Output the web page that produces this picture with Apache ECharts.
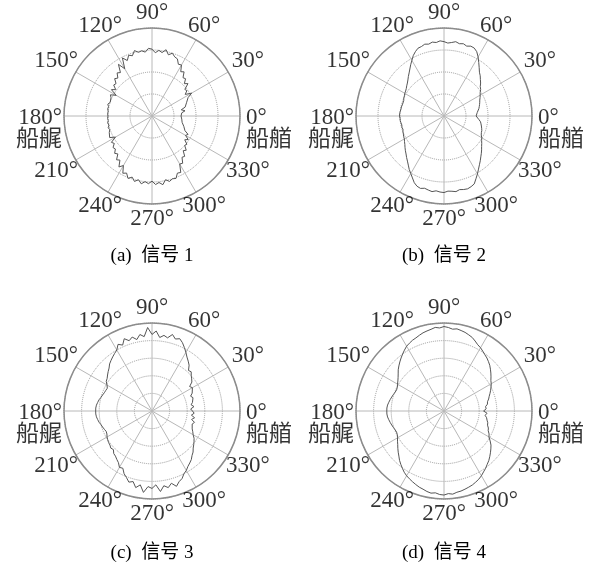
<!DOCTYPE html>
<html>
<head>
<meta charset="utf-8">
<script src="https://cdn.jsdelivr.net/npm/echarts@6/dist/echarts.min.js"></script>
<style>
  html, body { margin: 0; padding: 0; background: #ffffff; }
  #chart { width: 592px; height: 562px; }
</style>
</head>
<body>
<div id="chart"></div>
<script>
// Bearing of each sample (degrees, 0 = bow, counter-clockwise)
const sampleAngles = [
  0, 3, 6, 9, 12, 15, 18, 21, 24, 27, 30, 33, 36, 39, 42, 45, 48, 51, 54, 57,
  60, 63, 66, 69, 72, 75, 78, 81, 84, 87, 90, 93, 96, 99, 102, 105, 108, 111, 114, 117,
  120, 123, 126, 129, 132, 135, 138, 141, 144, 147, 150, 153, 156, 159, 162, 165, 168, 171, 174, 177,
  180, 183, 186, 189, 192, 195, 198, 201, 204, 207, 210, 213, 216, 219, 222, 225, 228, 231, 234, 237,
  240, 243, 246, 249, 252, 255, 258, 261, 264, 267, 270, 273, 276, 279, 282, 285, 288, 291, 294, 297,
  300, 303, 306, 309, 312, 315, 318, 321, 324, 327, 330, 333, 336, 339, 342, 345, 348, 351, 354, 357
];

// Relative level of each signal at the bearings above (outer circle = 100)
const signal1 = [
  33, 35, 34, 38, 34, 39, 38, 42, 41, 46, 52, 45, 49, 48, 55, 52, 57, 56, 62, 60,
  67, 66, 71, 72, 75, 72, 77, 73, 75, 72, 76, 77, 73, 75, 74, 77, 72, 74, 69, 74,
  62, 70, 61, 63, 58, 60, 55, 56, 51, 55, 47, 53, 51, 52, 50, 52, 50.5, 51, 50, 50.5,
  50, 50.5, 50, 51, 50, 51.5, 50.5, 52, 51, 54, 48, 55, 53, 57, 56, 60, 58, 64, 62, 69,
  65, 73, 71, 76, 73, 77, 74, 78, 75, 77, 74, 78, 76, 79, 74, 77, 75, 76, 71, 72,
  63, 64, 58, 59, 53, 55, 50, 51, 46, 49, 44, 46, 41, 42, 38, 39, 35, 36, 34, 35
];
const signal2 = [
  36.5, 36.5, 38, 39, 40.5, 41.5, 42.5, 43.5, 44.5, 46, 47.5, 49, 51.5, 53, 56, 58.5, 61.5, 64, 68, 72.5,
  77.5, 82, 84.5, 85, 83.5, 85, 84, 85.5, 84, 83, 84.5, 85.5, 84, 85, 83.5, 84.5, 83, 82.5, 80, 77,
  73, 69.5, 66, 63, 60.5, 58, 56, 54.5, 53, 52, 51.5, 50.5, 50, 49, 49.5, 49, 49.5, 49.5, 50, 50.5,
  50.5, 50, 50, 49.5, 49, 49.5, 49, 50, 50.5, 51.5, 52, 53.5, 55, 57, 59, 61, 63.5, 66, 69, 72.5,
  75.5, 79, 83, 85.5, 86.5, 85, 86, 87, 85.5, 86.5, 87, 85.5, 86, 87, 85.5, 86.5, 87, 86, 84.5, 80,
  76, 72, 68.5, 65.5, 62.5, 60, 57.5, 55, 53, 51, 49.5, 47.5, 46.5, 46, 45, 44, 43, 42, 40, 38
];
const signal3 = [
  46, 44, 48, 45, 47, 46, 49, 47, 50, 49, 53, 51, 56, 58, 60, 63, 62, 67, 70, 73,
  77, 81, 85, 88, 86, 90, 85, 87, 84, 91, 87, 95, 85, 88, 83, 87, 84, 88, 82, 85,
  80, 78, 76, 74, 72, 69, 67, 65, 63, 62, 59, 57, 57.5, 58, 59, 60, 61.5, 62.5, 63.5, 64,
  64, 64, 63.5, 62.5, 61.5, 60, 59, 58, 57, 57.5, 59, 60, 61, 61.5, 63, 62, 65, 66, 68, 70,
  74, 73, 78, 81, 85, 83, 89, 85, 93, 86, 88, 84, 92, 86, 89, 85, 90, 86, 84, 80,
  78, 75, 73, 71, 68, 66, 63, 61, 59, 57, 54, 52, 50, 51, 48, 50, 46, 49, 45, 48
];
const signal4 = [
  45, 48, 47.5, 50, 50.5, 52.5, 54, 56, 58, 60, 62, 63.5, 66, 68.5, 71, 73.5, 75.5, 77.5, 79, 81,
  83, 84.5, 87, 89.5, 91, 92.5, 93.5, 94.5, 93.5, 95, 96, 94.5, 95.5, 94, 93, 92, 90.5, 89, 88, 86.5,
  85, 82.5, 80, 77.5, 75, 72.5, 70, 67, 64.5, 62.5, 61, 59.5, 59, 59.5, 60.5, 61.5, 62.5, 63.5, 64.5, 65,
  65, 65, 64.5, 63.5, 62.5, 61.5, 60.5, 59.5, 59, 59.5, 61, 63, 65, 67.5, 70, 72.5, 75.5, 78, 80.5, 83,
  85, 86.5, 88, 89.5, 91, 92, 93.5, 94.5, 93.5, 95, 95.5, 94, 95, 93.5, 93, 92, 91, 90, 88.5, 87,
  85, 82.5, 80.5, 78, 76, 73.5, 71, 68.5, 66, 62.5, 59, 57.5, 55, 54, 52, 51.5, 50, 49, 47, 49
];

// Angular tick positions and their labels
const angleTicks = [0, 30, 60, 90, 120, 150, 180, 210, 240, 270, 300, 330];
const angleTickLabels = ['0°\n船艏', '30°', '60°', '90°', '120°', '150°', '180°\n船艉', '210°', '240°', '270°', '300°', '330°'];

// Panel captions
const captions = ['(a)  信号 1', '(b)  信号 2', '(c)  信号 3', '(d)  信号 4'];

// ---- layout and style -------------------------------------------------
const signals = [signal1, signal2, signal3, signal4];
const ringStep = [25, 25, 20, 20];
const centers = [[152, 116], [444, 116], [152, 411], [444, 411]];
const captionPos = [[152, 256], [444, 256], [152, 553], [444, 553]];
const R = 88;            // polar radius, px
const GAP = 7;           // gap between circle and tick labels, px
const FONT = '"Liberation Serif", "Noto Sans CJK SC", serif';
const LABEL_SIZE = 23;

const measureCtx = document.createElement('canvas').getContext('2d');
measureCtx.font = LABEL_SIZE + 'px ' + FONT;

// radius (in axis units) at which a centred label just clears the circle
function labelRadius(text, deg) {
  const w = measureCtx.measureText(text).width;
  const h = LABEL_SIZE * 0.68;
  const t = deg * Math.PI / 180;
  const c = Math.abs(Math.cos(t)), s = Math.abs(Math.sin(t));
  const ext = Math.min(c > 1e-6 ? w / 2 / c : Infinity, s > 1e-6 ? h / 2 / s : Infinity);
  return (R + GAP + ext) / R * 100;
}

function tickLabelData() {
  return angleTicks.map((deg, i) => {
    const text = angleTickLabels[i];
    if (deg === 0) {
      return { value: [(R + 6) / R * 100, deg], label: { align: 'left', verticalAlign: 'middle', offset: [0, 13] } };
    }
    if (deg === 180) {
      return { value: [(R + 2) / R * 100, deg], label: { align: 'right', verticalAlign: 'middle', offset: [0, 13] } };
    }
    return { value: [labelRadius(text, deg), deg], label: { align: 'center', verticalAlign: 'middle' } };
  });
}

const polar = [], angleAxis = [], radiusAxis = [], series = [];
signals.forEach((vals, k) => {
  polar.push({ center: centers[k], radius: R });
  angleAxis.push({
    polarIndex: k, type: 'value', min: 0, max: 360, interval: 30,
    startAngle: 0, clockwise: false,
    axisLine: { show: true, lineStyle: { color: '#8c8c8c', width: 1.5 } },
    axisTick: { show: false },
    axisLabel: { show: false },
    splitLine: { show: true, lineStyle: { color: '#b8b8b8', width: 1, type: 'solid' } }
  });
  radiusAxis.push({
    polarIndex: k, type: 'value', min: 0, max: 100, interval: ringStep[k],
    axisLine: { show: false }, axisTick: { show: false }, axisLabel: { show: false },
    splitLine: { show: true, lineStyle: { color: '#9a9a9a', width: 1, type: 'dotted' } }
  });
  const pts = sampleAngles.map((a, i) => [vals[i], a]);
  pts.push([vals[0], 360]);
  series.push({
    type: 'line', coordinateSystem: 'polar', polarIndex: k,
    data: pts, showSymbol: false, symbol: 'none', silent: true,
    lineStyle: { color: '#555555', width: 1 }
  });
  series.push({
    type: 'scatter', coordinateSystem: 'polar', polarIndex: k,
    data: tickLabelData(), symbol: 'circle', symbolSize: 0, clip: false, silent: true,
    label: {
      show: true, position: 'inside',
      formatter: p => angleTickLabels[p.dataIndex],
      fontFamily: FONT, fontSize: LABEL_SIZE, lineHeight: 22, color: '#000000'
    }
  });
});

const graphic = captions.map((t, k) => ({
  type: 'text', x: captionPos[k][0], y: captionPos[k][1], silent: true,
  style: { text: t, font: '19px ' + FONT, fill: '#000000', align: 'center', verticalAlign: 'middle' }
}));

const chart = echarts.init(document.getElementById('chart'), null, { renderer: 'canvas' });
chart.setOption({
  animation: false,
  backgroundColor: '#ffffff',
  polar, angleAxis, radiusAxis, series, graphic
});
</script>
</body>
</html>
